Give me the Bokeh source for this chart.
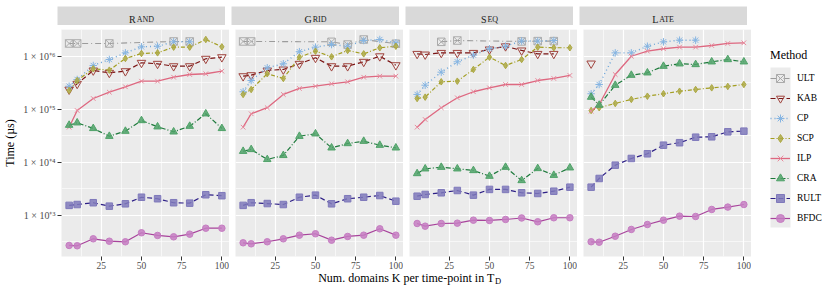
from bokeh.plotting import figure
from bokeh.models import Range1d, FixedTicker, Grid, Label, Legend, LegendItem, BoxAnnotation
from bokeh.layouts import row, column
from bokeh.embed import file_html
from bokeh.resources import INLINE

# ---------------- data (time in microseconds) ----------------
K = [5, 10, 20, 30, 40, 50, 60, 70, 80, 90, 100]
METHODS = ["ULT", "KAB", "CP", "SCP", "ILP", "CRA", "RULT", "BFDC"]
PANELS = ["Rand", "Grid", "Seq", "Late"]

X_TICKS = [25, 50, 75, 100]
X_MINOR = [12.5, 37.5, 62.5, 87.5]
Y_TICKS = [1e3, 1e4, 1e5, 1e6]
Y_LABELS = ["1 × 10⁺³", "1 × 10⁺⁴", "1 × 10⁺⁵", "1 × 10⁺⁶"]
Y_MINOR = [10 ** 2.5, 10 ** 3.5, 10 ** 4.5, 10 ** 5.5, 10 ** 6.5]

RAND = {
    "ULT": ([5, 10, 30, 70, 80], [1.76e6, 1.76e6, 1.76e6, 1.92e6, 1.92e6]),
    "KAB": (K, [2.38e5, 3.05e5, 5.45e5, 4.92e5, 5.28e5, 7.60e5, 7.28e5, 6.56e5, 6.56e5, 9.06e5, 9.70e5]),
    "CP": (K[:9], [2.75e5, 3.68e5, 6.76e5, 8.77e5, 1.17e6, 1.52e6, 1.56e6, 1.89e6, 1.89e6]),
    "SCP": (K, [2.28e5, 3.52e5, 5.86e5, 5.52e5, 9.16e5, 1.14e6, 1.17e6, 1.50e6, 1.50e6, 2.09e6, 1.52e6]),
    "ILP": (K, [4.63e4, 9.57e4, 1.61e5, 2.12e5, 2.68e5, 3.42e5, 3.42e5, 4.06e5, 4.57e5, 4.72e5, 5.28e5]),
    "CRA": (K, [5.06e4, 5.61e4, 4.39e4, 3.13e4, 3.90e4, 6.19e4, 4.72e4, 3.79e4, 4.84e4, 8.30e4, 4.39e4]),
    "RULT": (K, [1.55e3, 1.61e3, 1.74e3, 1.50e3, 1.66e3, 2.21e3, 2.07e3, 1.74e3, 1.71e3, 2.46e3, 2.36e3]),
    "BFDC": (K, [272, 268, 363, 327, 319, 472, 420, 396, 444, 575, 575]),
}
GRID = {
    "ULT": ([5, 10, 60, 70, 80, 100], [1.92e6, 1.92e6, 1.89e6, 1.68e6, 2.09e6, 1.74e6]),
    "KAB": (K, [4.25e5, 4.44e5, 5.45e5, 5.69e5, 7.28e5, 9.44e5, 6.56e5, 6.56e5, 7.94e5, 1.01e6, 6.85e5]),
    "CP": (K, [2.16e5, 3.52e5, 6.12e5, 7.28e5, 1.23e6, 1.50e6, 1.68e6, 1.56e6, 2.00e6, 2.09e6, 1.81e6]),
    "SCP": (K, [1.92e5, 2.38e5, 4.72e5, 3.85e5, 9.70e5, 1.26e6, 9.86e5, 1.30e6, 1.12e6, 1.46e6, 1.56e6]),
    "ILP": (K, [4.63e4, 8.30e4, 1.08e5, 1.92e5, 2.49e5, 2.75e5, 3.05e5, 3.33e5, 4.06e5, 4.25e5, 4.25e5]),
    "CRA": (K, [1.63e4, 1.76e4, 1.14e4, 1.36e4, 3.13e4, 3.48e4, 1.89e4, 2.28e4, 2.52e4, 2.12e4, 1.89e4]),
    "RULT": (K, [1.55e3, 1.74e3, 1.68e3, 1.61e3, 2.21e3, 2.42e3, 1.66e3, 2.07e3, 2.21e3, 2.38e3, 1.86e3]),
    "BFDC": (K, [305, 292, 319, 363, 425, 452, 342, 402, 425, 561, 425]),
}
SEQ = {
    "ULT": ([20, 30, 70, 80, 90], [1.89e6, 2.00e6, 1.92e6, 1.95e6, 1.95e6]),
    "KAB": (K[:10], [1.12e6, 1.09e6, 1.17e6, 1.17e6, 1.17e6, 1.36e6, 1.56e6, 1.30e6, 1.12e6, 1.12e6]),
    "CP": (K[:10], [1.92e5, 2.87e5, 5.06e5, 7.94e5, 1.06e6, 1.40e6, 1.56e6, 1.96e6, 1.95e6, 2.00e6]),
    "SCP": (K, [1.61e5, 1.71e5, 3.33e5, 3.42e5, 5.69e5, 9.70e5, 6.76e5, 8.77e5, 1.50e6, 1.46e6, 1.46e6]),
    "ILP": (K, [4.63e4, 6.47e4, 1.08e5, 1.66e5, 2.16e5, 2.56e5, 2.96e5, 2.96e5, 3.52e5, 3.85e5, 4.39e5]),
    "CRA": (K, [6.19e3, 7.60e3, 8.15e3, 7.60e3, 7.06e3, 5.52e3, 8.15e3, 4.57e3, 7.71e3, 5.75e3, 7.94e3]),
    "RULT": (K, [2.31e3, 2.49e3, 2.68e3, 2.96e3, 2.42e3, 3.10e3, 3.10e3, 2.68e3, 2.60e3, 2.87e3, 3.42e3]),
    "BFDC": (K, [706, 628, 706, 716, 815, 805, 841, 897, 760, 906, 906]),
}
LATE = {
    "KAB": ([5], [7.38e5]),
    "CP": (K[:8], [1.98e5, 2.96e5, 1.17e6, 1.17e6, 1.56e6, 1.89e6, 2.03e6, 2.03e6]),
    "SCP": (K, [9.57e4, 1.08e5, 1.30e5, 1.55e5, 1.78e5, 1.98e5, 2.21e5, 2.38e5, 2.56e5, 2.72e5, 2.96e5]),
    "ILP": (K, [9.29e4, 1.24e5, 4.57e5, 1.01e6, 1.26e6, 1.40e6, 1.50e6, 1.50e6, 1.61e6, 1.76e6, 1.81e6]),
    "CRA": (K, [1.71e5, 1.21e5, 2.87e5, 4.44e5, 4.92e5, 6.56e5, 7.28e5, 7.06e5, 7.94e5, 8.77e5, 7.94e5]),
    "RULT": (K, [3.42e3, 4.99e3, 8.89e3, 1.19e4, 1.46e4, 2.12e4, 2.36e4, 3.00e4, 3.05e4, 3.79e4, 3.90e4]),
    "BFDC": (K, [319, 313, 406, 545, 676, 815, 971, 957, 1.30e3, 1.44e3, 1.61e3]),
}
PANEL_DATA = [RAND, GRID, SEQ, LATE]

# ---------------- styles ----------------
FONT = "Liberation Serif"
PANEL_BG = "#EBEBEB"
STRIP_BG = "#D9D9D9"
STYLE = {
    "ULT": dict(lc="#9C9C9C", dash="6 3 1 3", lw=1.1, marker="square_x", mc="#ABABAB", fill=None, size=7.5),
    "KAB": dict(lc="#7A1414", dash="5 3", lw=1.2, marker="inverted_triangle", mc="#A0443E", fill=None, size=8.5),
    "CP": dict(lc="#6EA6DA", dash="1 3", lw=1.4, marker="asterisk", mc="#86B5E2", fill=None, size=7.5),
    "SCP": dict(lc="#A39E22", dash="4 2 1 2", lw=1.2, marker="diamond", mc="#ADA944", fill="#ADA944", size=6.5),
    "ILP": dict(lc="#DE6880", dash="solid", lw=1.3, marker="x", mc="#E8899C", fill=None, size=6.5),
    "CRA": dict(lc="#1E7A3C", dash="5 2 1 2", lw=1.2, marker="triangle", mc="#4FA268", fill="#4FA268", size=7.5),
    "RULT": dict(lc="#2D1F86", dash="5 3", lw=1.2, marker="square", mc="#7F79BB", fill="#7F79BB", size=6.5),
    "BFDC": dict(lc="#A8449C", dash="solid", lw=1.2, marker="circle", mc="#C67DC2", fill="#C67DC2", size=6.5),
}
CAPW = {"A": .722, "D": .722, "E": .611, "G": .722, "I": .333, "L": .611,
        "N": .722, "Q": .722, "R": .667, "S": .556, "T": .611}

LEFT = 57          # left edge of first panel
GAP = 6            # gap between panels
FRAME_W, FRAME_H = 168, 227
STRIP_TOP, STRIP_H = 6, 19
BOTTOM = 17
X_LO, X_HI = 0.25, 104.75
Y_LO, Y_HI = 10 ** 2.226, 10 ** 6.509


def strip(name, first):
    s = figure(frame_width=FRAME_W, frame_height=STRIP_H, x_range=Range1d(0, FRAME_W),
               y_range=Range1d(STRIP_H, 0), x_axis_location=None, y_axis_location=None,
               min_border_left=LEFT if first else GAP, min_border_right=0,
               min_border_top=STRIP_TOP, min_border_bottom=0, background_fill_color=STRIP_BG,
               outline_line_color=None, output_backend="svg", toolbar_location=None)
    s.grid.visible = False
    big, small = 10, 8
    rest = name[1:].upper()
    w = CAPW[name[0]] * big + sum(CAPW[c] for c in rest) * small + 1
    x0 = FRAME_W / 2 - w / 2
    s.add_layout(Label(x=x0, y=13, text=name[0], text_font=FONT, text_font_size=f"{big}px",
                       text_baseline="alphabetic", text_align="left", text_color="#1A1A1A"))
    s.add_layout(Label(x=x0 + CAPW[name[0]] * big + 1, y=13, text=rest, text_font=FONT,
                       text_font_size=f"{small}px", text_baseline="alphabetic",
                       text_align="left", text_color="#1A1A1A"))
    return s


def panel(data, first):
    p = figure(frame_width=FRAME_W, frame_height=FRAME_H, x_range=Range1d(X_LO, X_HI),
               y_range=Range1d(Y_LO, Y_HI), y_axis_type="log",
               y_axis_location="left" if first else None,
               min_border_left=LEFT if first else GAP, min_border_right=0,
               min_border_top=0, min_border_bottom=BOTTOM,
               background_fill_color=PANEL_BG, outline_line_color=None,
               output_backend="svg", toolbar_location=None)
    p.grid.visible = False
    p.add_layout(Grid(dimension=0, ticker=FixedTicker(ticks=X_TICKS, minor_ticks=X_MINOR),
                      grid_line_color="white", grid_line_width=1.2,
                      minor_grid_line_color="white", minor_grid_line_width=0.6))
    p.add_layout(Grid(dimension=1, ticker=FixedTicker(ticks=Y_TICKS, minor_ticks=Y_MINOR),
                      grid_line_color="white", grid_line_width=1.2,
                      minor_grid_line_color="white", minor_grid_line_width=0.6))
    ax = p.xaxis[0]
    ax.ticker = FixedTicker(ticks=X_TICKS)
    ax.major_label_standoff = 1
    ax.major_label_text_font_size = "9.5px"
    axes = [ax]
    if first:
        ay = p.yaxis[0]
        ay.ticker = FixedTicker(ticks=Y_TICKS)
        ay.major_label_overrides = {t: l for t, l in zip(Y_TICKS, Y_LABELS)}
        ay.major_label_standoff = 2
        ay.major_label_text_font_size = "10px"
        ay.axis_label = "Time (µs)"
        ay.axis_label_text_font = FONT
        ay.axis_label_text_font_style = "normal"
        ay.axis_label_text_font_size = "12px"
        ay.axis_label_text_color = "black"
        ay.axis_label_standoff = 3
        axes.append(ay)
    for a in axes:
        a.axis_line_color = None
        a.major_tick_out = 4
        a.major_tick_in = 0
        a.major_tick_line_color = "#333333"
        a.minor_tick_line_color = None
        a.major_label_text_font = FONT
        a.major_label_text_color = "#4D4D4D"
    for m in METHODS:
        if m not in data:
            continue
        ks, vs = data[m]
        st = STYLE[m]
        p.line(ks, vs, line_color=st["lc"], line_width=st["lw"], line_dash=st["dash"])
    for m in METHODS:
        if m not in data:
            continue
        ks, vs = data[m]
        st = STYLE[m]
        p.scatter(ks, vs, marker=st["marker"], size=st["size"], line_color=st["mc"],
                  fill_color=st["fill"], fill_alpha=0.85, line_width=1)
    return p


strips = [strip(n, i == 0) for i, n in enumerate(PANELS)]
panels = [panel(d, i == 0) for i, d in enumerate(PANEL_DATA)]

# legend figure (sits to the right of the last panel)
LEG_W = 830 - (LEFT + 4 * FRAME_W + 3 * GAP)
LEG_H = FRAME_H + BOTTOM - 4
lf = figure(frame_width=LEG_W, frame_height=LEG_H, x_range=Range1d(0, LEG_W),
            y_range=Range1d(LEG_H, 0), x_axis_location=None, y_axis_location=None,
            min_border_left=0, min_border_right=0, min_border_top=4, min_border_bottom=0,
            outline_line_color=None, output_backend="svg", toolbar_location=None)
lf.grid.visible = False
lf.add_layout(BoxAnnotation(left=19, right=39, top=38, bottom=198, fill_color="#EBEBEB",
                            fill_alpha=1, line_color=None, level="underlay"))
items = []
nan = float("nan")
for m in METHODS:
    st = STYLE[m]
    rl = lf.line(x=[nan], y=[nan], line_color=st["lc"], line_width=st["lw"], line_dash=st["dash"])
    rs = lf.scatter(x=[nan], y=[nan], marker=st["marker"], size=st["size"], line_color=st["mc"],
                    fill_color=st["fill"], fill_alpha=0.85, line_width=1)
    items.append(LegendItem(label=m, renderers=[rl, rs]))
leg = Legend(items=items, location="top_left", title="Method", title_text_font=FONT,
             title_text_font_size="12px", title_text_font_style="normal",
             title_text_color="black", title_standoff=5,
             label_text_font=FONT, label_text_font_size="9.5px", label_text_color="black",
             glyph_width=20, glyph_height=20, label_height=20, label_standoff=7, spacing=0,
             padding=0, margin=19, background_fill_alpha=0, border_line_color=None)
lf.add_layout(leg)

# x-axis title
TW, TH = 830, 22
tf = figure(frame_width=TW, frame_height=TH, x_range=Range1d(0, TW), y_range=Range1d(TH, 0),
            x_axis_location=None, y_axis_location=None, min_border=0,
            outline_line_color=None, output_backend="svg", toolbar_location=None)
tf.grid.visible = False
tf.add_layout(Label(x=494, y=8.5, text="Num. domains K per time-point in T", text_font=FONT,
                    text_font_size="12px", text_align="right", text_baseline="alphabetic",
                    text_color="black"))
tf.add_layout(Label(x=494.5, y=11, text="D", text_font=FONT, text_font_size="8.5px",
                    text_align="left", text_baseline="alphabetic", text_color="black"))

layout = column(row(*strips), row(*panels, lf), tf)
open("out.html", "w").write(file_html(layout, INLINE))
